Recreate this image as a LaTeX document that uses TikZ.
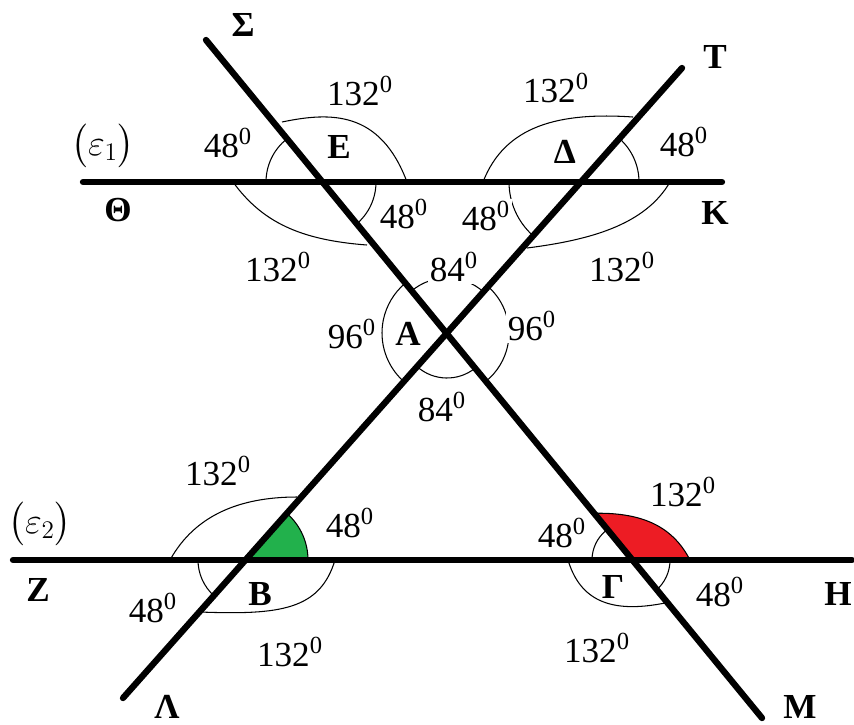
\documentclass[tikz,border=0pt]{standalone}
\usepackage{amsmath}
\usepackage{fontspec}
\setmainfont{Liberation Serif}
\definecolor{pgreen}{RGB}{34,177,76}
\definecolor{pred}{RGB}{237,28,36}
\newcommand{\dg}[1]{#1\textsuperscript{0}}
\begin{document}
\begin{tikzpicture}[x=0.02cm,y=-0.02cm,
    lin/.style={line width=3.6pt,line cap=round},
    ang/.style={line width=0.6pt},
    deg/.style={fill=white,inner sep=1pt,font=\fontsize{20}{24}\selectfont},
    lett/.style={inner sep=0pt,font=\fontsize{20}{24}\selectfont\bfseries}]
  \useasboundingbox (0,0) rectangle (854,724);
  \coordinate (E) at (321,182); \coordinate (D) at (581,182);
  \coordinate (A) at (447,333); \coordinate (B) at (246,560);
  \coordinate (G) at (630,560);
  \coordinate (Se) at (206,40); \coordinate (Me) at (762,718);
  \coordinate (Le) at (123,698); \coordinate (Te) at (682,68);
  \coordinate (Th) at (83,182); \coordinate (Ke) at (722,182);
  \coordinate (Ze) at (13,560); \coordinate (He) at (852,560);
  \draw[ang,fill=pgreen] (B) -- ([shift={(0:62)}]B)
    arc[start angle=0,end angle=-48.5,radius=62] -- cycle;
  \draw[ang,fill=pred] (G) -- ([shift={(231.1:60)}]G)
    .. controls (640,512) and (672,525) .. (690,560) -- cycle;
  \draw[ang] ([shift={(180:55)}]E) arc[start angle=180,end angle=231,radius=55];
  \draw[ang] ([shift={(0:55)}]E) arc[start angle=0,end angle=50,radius=55];
  \draw[ang] (282,122) .. controls (330,112) and (380,110) .. (407,182);
  \draw[ang] (233,182) .. controls (262,222) and (300,240) .. (367,245);
  \draw[ang] (483,182) .. controls (505,125) and (560,112) .. (633,117);
  \draw[ang] ([shift={(0:58)}]D) arc[start angle=0,end angle=-48,radius=58];
  \draw[ang] ([shift={(180:72)}]D) arc[start angle=180,end angle=132,radius=72];
  \draw[ang] (670,182) .. controls (645,225) and (590,240) .. (527,248);
  \draw[ang] ([shift={(230:55)}]A) arc[start angle=230,end angle=311.6,radius=55];
  \draw[ang] ([shift={(131.5:65)}]A) arc[start angle=131.5,end angle=230,radius=65];
  \draw[ang] ([shift={(-48.4:62)}]A) arc[start angle=-48.4,end angle=51.1,radius=62];
  \draw[ang] ([shift={(51.1:45)}]A) arc[start angle=51.1,end angle=131.5,radius=45];
  \draw[ang] (170,560) .. controls (195,515) and (240,497) .. (297,497);
  \draw[ang] ([shift={(180:48)}]B) arc[start angle=180,end angle=131.7,radius=48];
  \draw[ang] (335,560) .. controls (320,610) and (280,615) .. (200,612);
  \draw[ang] ([shift={(180:38)}]G) arc[start angle=180,end angle=231,radius=38];
  \draw[ang] ([shift={(0:40)}]G) arc[start angle=0,end angle=50,radius=40];
  \draw[ang] (568,560) .. controls (580,600) and (610,614) .. (665,603);
  \draw[lin] (Th) -- (Ke);
  \draw[lin] (Ze) -- (He);
  \draw[lin] (Se) -- (Me);
  \draw[lin] (Le) -- (Te);
  \node[lett] (nS) at (243,25) {Σ};
  \node[lett] (nT) at (715,57) {Τ};
  \node[lett] (nTh) at (118,210) {Θ};
  \node[lett] (nK) at (715,213) {Κ};
  \node[lett] (nE) at (339,147) {Ε};
  \node[lett] (nD) at (565,152) {Δ};
  \node[lett] (nA) at (408,334) {Α};
  \node[lett] (nZ) at (38,590) {Ζ};
  \node[lett] (nB) at (260,594) {Β};
  \node[lett] (nG) at (613,587) {Γ};
  \node[lett] (nH) at (838,594) {Η};
  \node[lett] (nL) at (167,707) {Λ};
  \node[lett] (nM) at (800,707) {Μ};
  \node[font=\fontsize{20}{24}\selectfont] (e1) at (103,146) {$\bigl(\varepsilon_1\bigr)$};
  \node[font=\fontsize{20}{24}\selectfont] (e2) at (40,524) {$\bigl(\varepsilon_2\bigr)$};
  \node[deg] (dE1) at (360,91) {\dg{132}};
  \node[deg] (dE2) at (228,143) {\dg{48}};
  \node[deg] (dE3) at (404,214) {\dg{48}};
  \node[deg] (dE4) at (278,267) {\dg{132}};
  \node[deg] (dD1) at (556,88) {\dg{132}};
  \node[deg] (dD2) at (684,142) {\dg{48}};
  \node[deg] (dD3) at (486,216) {\dg{48}};
  \node[deg] (dD4) at (622,267) {\dg{132}};
  \node[deg] (dA1) at (454,267) {\dg{84}};
  \node[deg] (dA2) at (352,334) {\dg{96}};
  \node[deg] (dA3) at (532,326) {\dg{96}};
  \node[deg] (dA4) at (442,407) {\dg{84}};
  \node[deg] (dB1) at (218,471) {\dg{132}};
  \node[deg] (dB2) at (350,523) {\dg{48}};
  \node[deg] (dB3) at (153,608) {\dg{48}};
  \node[deg] (dB4) at (290,652) {\dg{132}};
  \node[deg] (dG1) at (683,492) {\dg{132}};
  \node[deg] (dG2) at (562,533) {\dg{48}};
  \node[deg] (dG3) at (720,592) {\dg{48}};
  \node[deg] (dG4) at (597,648) {\dg{132}};
\end{tikzpicture}
\end{document}
